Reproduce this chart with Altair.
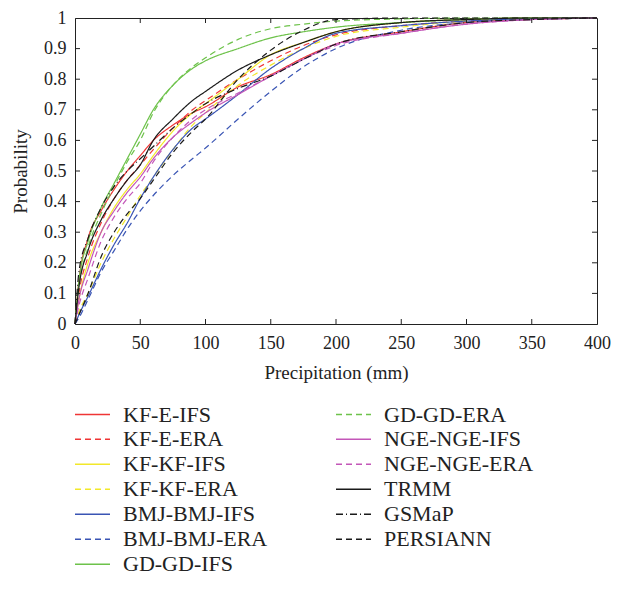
import altair as alt
import pandas as pd

x_mm = [0, 3, 10, 20, 30, 40, 50, 60, 75, 90, 100, 125, 150, 175, 200, 250, 300, 350, 400]

series_names = ["KF-E-IFS", "KF-E-ERA", "KF-KF-IFS", "KF-KF-ERA", "BMJ-BMJ-IFS",
                "BMJ-BMJ-ERA", "GD-GD-IFS", "GD-GD-ERA", "NGE-NGE-IFS", "NGE-NGE-ERA",
                "TRMM", "GSMaP", "PERSIANN"]

kf_e_ifs = [0, 0.14, 0.28, 0.37, 0.44, 0.50, 0.55, 0.60, 0.65, 0.69, 0.71, 0.775, 0.815, 0.87, 0.915, 0.955, 0.985, 0.995, 1.0]
kf_e_era = [0, 0.10, 0.22, 0.33, 0.41, 0.47, 0.52, 0.57, 0.64, 0.70, 0.73, 0.80, 0.86, 0.91, 0.945, 0.975, 0.99, 0.998, 1.0]
kf_kf_ifs = [0, 0.08, 0.20, 0.30, 0.38, 0.44, 0.49, 0.55, 0.63, 0.69, 0.72, 0.80, 0.88, 0.92, 0.955, 0.985, 0.995, 1.0, 1.0]
kf_kf_era = [0, 0.04, 0.10, 0.20, 0.28, 0.35, 0.42, 0.48, 0.57, 0.65, 0.69, 0.78, 0.846, 0.90, 0.94, 0.97, 0.99, 0.998, 1.0]
bmj_ifs = [0, 0.03, 0.09, 0.18, 0.26, 0.33, 0.41, 0.48, 0.57, 0.64, 0.67, 0.75, 0.835, 0.90, 0.95, 0.975, 0.99, 0.998, 1.0]
bmj_era = [0, 0.02, 0.08, 0.17, 0.24, 0.31, 0.37, 0.42, 0.485, 0.54, 0.575, 0.67, 0.76, 0.84, 0.90, 0.96, 0.985, 0.995, 1.0]
gd_ifs = [0, 0.14, 0.27, 0.38, 0.46, 0.54, 0.62, 0.70, 0.78, 0.835, 0.86, 0.90, 0.935, 0.955, 0.97, 0.985, 0.995, 1.0, 1.0]
gd_era = [0, 0.12, 0.25, 0.36, 0.45, 0.53, 0.60, 0.69, 0.78, 0.84, 0.87, 0.93, 0.965, 0.98, 0.99, 0.997, 1.0, 1.0, 1.0]
nge_ifs = [0, 0.08, 0.18, 0.30, 0.37, 0.43, 0.48, 0.54, 0.61, 0.66, 0.69, 0.75, 0.81, 0.865, 0.915, 0.95, 0.98, 0.995, 1.0]
nge_era = [0, 0.06, 0.15, 0.27, 0.35, 0.41, 0.46, 0.53, 0.61, 0.67, 0.70, 0.755, 0.81, 0.865, 0.91, 0.95, 0.98, 0.995, 1.0]
trmm = [0, 0.12, 0.24, 0.34, 0.41, 0.47, 0.52, 0.60, 0.67, 0.73, 0.76, 0.83, 0.88, 0.92, 0.955, 0.985, 0.995, 1.0, 1.0]
gsmap = [0, 0.17, 0.28, 0.38, 0.45, 0.50, 0.54, 0.58, 0.64, 0.69, 0.72, 0.77, 0.81, 0.865, 0.915, 0.955, 0.985, 0.995, 1.0]
persiann = [0, 0.03, 0.10, 0.22, 0.30, 0.36, 0.41, 0.47, 0.56, 0.63, 0.67, 0.80, 0.895, 0.96, 0.995, 1.0, 1.0, 1.0, 1.0]

all_values = [kf_e_ifs, kf_e_era, kf_kf_ifs, kf_kf_era, bmj_ifs, bmj_era, gd_ifs, gd_era,
              nge_ifs, nge_era, trmm, gsmap, persiann]

series_colors = ["#ef3535", "#ef3535", "#f2e82a", "#f2e82a", "#3a55b4", "#3a55b4",
                 "#6dc24a", "#6dc24a", "#c356b8", "#c356b8", "#1a1a1a", "#1a1a1a", "#1a1a1a"]
series_dash = [[1, 0], [6, 4], [1, 0], [6, 4], [1, 0], [6, 4], [1, 0], [6, 4],
               [1, 0], [6, 4], [1, 0], [7, 3, 1, 3], [6, 4]]

x_ticks = [0, 50, 100, 150, 200, 250, 300, 350, 400]
y_ticks = [0, 0.1, 0.2, 0.3, 0.4, 0.5, 0.6, 0.7, 0.8, 0.9, 1.0]

rows = []
for name, vals in zip(series_names, all_values):
    for xv, yv in zip(x_mm, vals):
        rows.append({"Series": name, "Precipitation": xv, "Probability": yv})
df = pd.DataFrame(rows)

W, H = 522, 306
FONT = "Liberation Serif"
TXT = "#222"

xs = alt.Scale(domain=[0, 400], nice=False)
ys = alt.Scale(domain=[0, 1], nice=False)

x_axis = alt.Axis(title="Precipitation (mm)", values=x_ticks, ticks=False, grid=False,
                  labelPadding=10, titlePadding=11, labelOverlap=False, labelFlush=False,
                  labelFont=FONT, titleFont=FONT, labelFontSize=18, titleFontSize=19,
                  labelColor=TXT, titleColor=TXT, titleFontWeight="normal",
                  domainColor=TXT)
y_axis = alt.Axis(title="Probability", values=y_ticks, ticks=False, grid=False,
                  format="~g", labelPadding=9, titlePadding=13, labelOverlap=False,
                  labelFlush=False,
                  labelFont=FONT, titleFont=FONT, labelFontSize=18, titleFontSize=19,
                  labelColor=TXT, titleColor=TXT, titleFontWeight="normal",
                  domainColor=TXT)


def make_legend():
    return alt.Legend(title=None, orient="none", legendX=-1, legendY=384,
                      columns=2, columnPadding=67, rowPadding=0, clipHeight=24.5,
                      symbolType="stroke", symbolSize=1225,
                      symbolStrokeWidth=1.3, labelFontSize=22,
                      labelFont=FONT, labelColor=TXT, labelOffset=12,
                      labelLimit=300)


lines = alt.Chart(df).mark_line(strokeWidth=1.2, interpolate="monotone").encode(
    x=alt.X("Precipitation:Q", scale=xs, axis=x_axis),
    y=alt.Y("Probability:Q", scale=ys, axis=y_axis),
    color=alt.Color("Series:N", sort=series_names,
                    scale=alt.Scale(domain=series_names, range=series_colors),
                    legend=make_legend()),
    strokeDash=alt.StrokeDash("Series:N", sort=series_names,
                              scale=alt.Scale(domain=series_names, range=series_dash),
                              legend=make_legend()),
    order=alt.Order("Precipitation:Q"),
)

xt = pd.DataFrame({"Precipitation": x_ticks[1:-1]})
yt = pd.DataFrame({"Probability": y_ticks[1:-1]})

bottom_ticks = alt.Chart(xt).mark_rule(color=TXT, strokeWidth=1).encode(
    x=alt.X("Precipitation:Q", scale=xs, axis=x_axis), y=alt.value(H), y2=alt.value(H - 5))
top_ticks = alt.Chart(xt).mark_rule(color=TXT, strokeWidth=1).encode(
    x=alt.X("Precipitation:Q", scale=xs, axis=x_axis), y=alt.value(0), y2=alt.value(5))
left_ticks = alt.Chart(yt).mark_rule(color=TXT, strokeWidth=1).encode(
    y=alt.Y("Probability:Q", scale=ys, axis=y_axis), x=alt.value(0), x2=alt.value(5))
right_ticks = alt.Chart(yt).mark_rule(color=TXT, strokeWidth=1).encode(
    y=alt.Y("Probability:Q", scale=ys, axis=y_axis), x=alt.value(W), x2=alt.value(W - 5))

chart = alt.layer(lines, bottom_ticks, top_ticks, left_ticks, right_ticks).properties(
    width=W, height=H,
    background="white",
    autosize=alt.AutoSizeParams(type="none"),
    padding={"left": 67, "top": 10, "right": 14, "bottom": 254},
).configure_view(
    stroke=TXT, strokeWidth=1
)

chart.save("out.html", embed_options={"renderer": "svg", "actions": False})
